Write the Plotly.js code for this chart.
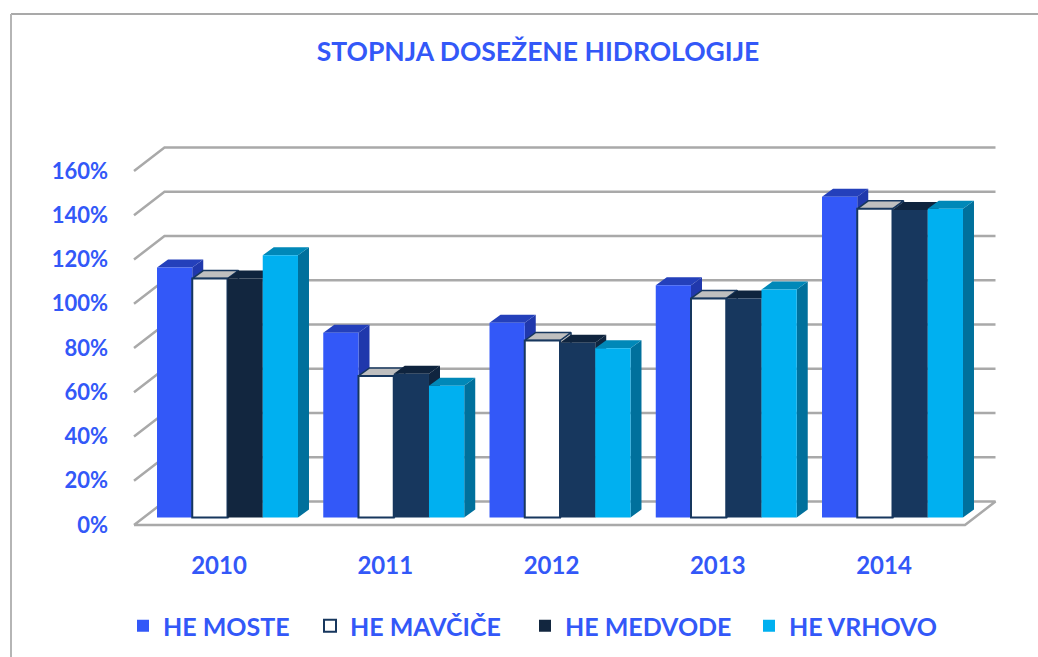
<!DOCTYPE html>
<html><head><meta charset="utf-8">
<script src="https://cdn.plot.ly/plotly-3.0.1.min.js"></script>
<style>html,body{margin:0;padding:0;background:#fff}#c{width:1038px;height:657px}</style>
</head><body><div id="c"></div>
<script>
const years = [2010, 2011, 2012, 2013, 2014];
const heMoste   = [113, 83.5, 88, 105, 145];
const heMavcice = [108, 64, 80, 99, 139.5];
const heMedvode = [108, 65, 79, 99, 139];
const heVrhovo  = [118.5, 59.5, 76.5, 103, 139.5];
const yTicks = [0, 20, 40, 60, 80, 100, 120, 140, 160];
const seriesNames = ['HE MOSTE', 'HE MAVČIČE', 'HE MEDVODE', 'HE VRHOVO'];

const W = 1038, H = 657, L = 112, R = 1010, T = 130, B = 540;
const pxPerYear = 166.25, pxPerPct = 2.2125, x2010Px = 219, zeroPx = 525;
const xRange = [2010 + (L - x2010Px) / pxPerYear, 2010 + (R - x2010Px) / pxPerYear];
const yRange = [(zeroPx - B) / pxPerPct, (zeroPx - T) / pxPerPct];
const xu = p => p / pxPerYear, yu = p => p / pxPerPct;

const BLUE = '#3358f8', GRID = '#a9a9a9', FONT = 'Lato, "Open Sans", sans-serif';
const barShift = xu(8.5), barBase = yu(7.5), barDX = xu(11), barDY = yu(8);
const bargap = 0.152, barW = (1 - bargap) / 4;

const valuesBySeries = [heMoste, heMavcice, heMedvode, heVrhovo];
const frontColor = [BLUE, '#ffffff', ['#12263f', '#17375e', '#17375e', '#17375e', '#17375e'], '#00b0f0'];
const topColor = ['#2440bb', '#bfbfbf', '#0f243e', '#0088b8'];
const sideColor = ['#2038ac', '#bfbfbf', '#10253f', '#00709c'];
const legendKeys = ['legend', 'legend2', 'legend3', 'legend4'];
const legendPx = [123, 310, 525, 749];

const traces = [];
// walls: gridlines and floor
const gx = [], gy = [];
const backDX = xu(30.5), backDY = yu(23.5), frontL = years[0] + xu(134 - x2010Px), frontR = years[0] + xu(965 - x2010Px);
yTicks.slice(1).forEach(v => {
  gx.push(frontL, frontL + backDX, frontR + backDX, null);
  gy.push(v, v + backDY, v + backDY, null);
});
traces.push({type: 'scatter', mode: 'lines', x: gx, y: gy, line: {color: GRID, width: 2.5}, showlegend: false, hoverinfo: 'skip'});
traces.push({type: 'scatter', mode: 'lines', fill: 'toself', fillcolor: '#ffffff',
  x: [frontL, frontR, frontR + backDX, frontL + backDX, frontL], y: [0, 0, backDY, backDY, 0],
  line: {color: GRID, width: 2.5}, showlegend: false, hoverinfo: 'skip'});

// depth faces (below the bars)
valuesBySeries.forEach((vals, s) => {
  const tx = [], ty = [], sx = [], sy = [];
  vals.forEach((v, i) => {
    const x0 = years[i] + barShift - (1 - bargap) / 2 + s * barW, x1 = x0 + barW, top = barBase + v;
    tx.push(x0, x1, x1 + barDX, x0 + barDX, x0, null);
    ty.push(top, top, top + barDY, top + barDY, top, null);
    sx.push(x1, x1 + barDX, x1 + barDX, x1, x1, null);
    sy.push(barBase, barBase + barDY, top + barDY, top, barBase, null);
  });
  const ln = s === 1 ? {color: '#17375e', width: 1.5} : {width: 0};
  traces.push({type: 'scatter', mode: 'lines', fill: 'toself', fillcolor: sideColor[s], x: sx, y: sy, line: ln, showlegend: false, hoverinfo: 'skip'});
  traces.push({type: 'scatter', mode: 'lines', fill: 'toself', fillcolor: topColor[s], x: tx, y: ty, line: ln, showlegend: false, hoverinfo: 'skip'});
});

// front faces
valuesBySeries.forEach((vals, s) => {
  traces.push({type: 'bar', name: seriesNames[s], x: years.map(y => y + barShift), y: vals, base: barBase,
    xaxis: 'x2', yaxis: 'y2', legend: legendKeys[s],
    marker: {color: frontColor[s], line: {color: s === 1 ? '#17375e' : 'rgba(0,0,0,0)', width: s === 1 ? 2 : 0}}});
});

const layout = {
  width: W, height: H, paper_bgcolor: '#fff', plot_bgcolor: 'rgba(0,0,0,0)',
  margin: {l: L, r: W - R, t: T, b: H - B, pad: 0},
  barmode: 'group', bargap: bargap, bargroupgap: 0,
  font: {family: FONT, color: BLUE, size: 22, weight: 700},
  title: {text: 'STOPNJA DOSEŽENE HIDROLOGIJE', xref: 'container', yref: 'container', x: 538 / W, y: 1 - 52 / H,
    xanchor: 'center', yanchor: 'middle', font: {family: FONT, color: BLUE, size: 26.5, weight: 700}},
  xaxis: {range: xRange, tickmode: 'array', tickvals: years, ticktext: years.map(String), showgrid: false, zeroline: false,
    showline: false, ticks: '', ticklabelstandoff: 9, tickfont: {family: FONT, color: BLUE, size: 24, weight: 700}},
  yaxis: {range: yRange, tickmode: 'array', tickvals: yTicks, ticktext: yTicks.map(v => v + '%'), showgrid: false, zeroline: false,
    showline: false, ticks: '', ticklabelstandoff: 3, tickfont: {family: FONT, color: BLUE, size: 22, weight: 700}},
  xaxis2: {overlaying: 'x', anchor: 'y2', range: xRange, visible: false},
  yaxis2: {overlaying: 'y', anchor: 'x2', range: yRange, visible: false},
  shapes: [
    {type: 'line', xref: 'paper', yref: 'paper', layer: 'below', x0: (11 - L) / (R - L), x1: (W - L) / (R - L),
      y0: (B - 14) / (B - T), y1: (B - 14) / (B - T), line: {color: '#a9a9a9', width: 2}},
    {type: 'line', xref: 'paper', yref: 'paper', layer: 'below', x0: (11 - L) / (R - L), x1: (11 - L) / (R - L),
      y0: (B - 14) / (B - T), y1: (B - H) / (B - T), line: {color: '#b5b5b5', width: 2}}
  ]
};
legendKeys.forEach((k, s) => {
  layout[k] = {xref: 'container', yref: 'container', x: legendPx[s] / W, xanchor: 'left', y: 1 - 626 / H, yanchor: 'middle', orientation: 'h',
    bgcolor: 'rgba(0,0,0,0)', itemclick: false, itemdoubleclick: false,
    font: {family: FONT, color: BLUE, size: 25, weight: 700}};
});
Plotly.newPlot('c', traces, layout, {displayModeBar: false, staticPlot: true});
</script></body></html>
